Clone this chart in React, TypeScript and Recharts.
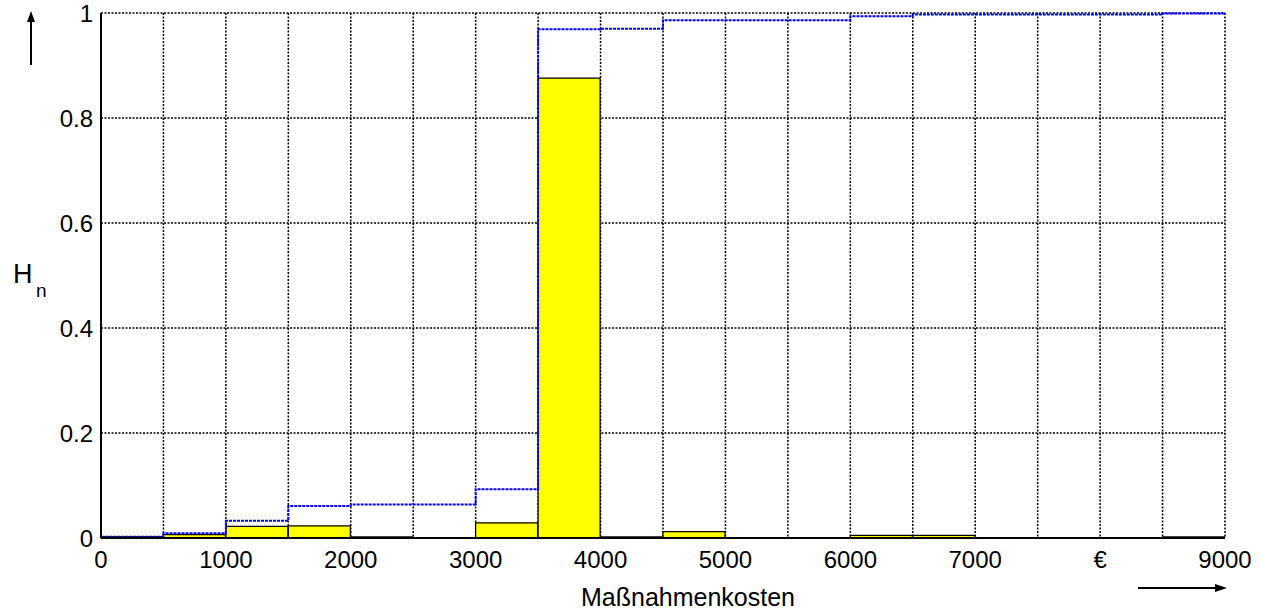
import React from "react";
import {
  ComposedChart,
  Bar,
  Line,
  XAxis,
  YAxis,
  CartesianGrid,
} from "recharts";

// ---------------------------------------------------------------------------
// Data (bins of 500 €, relative frequency + cumulative frequency)
// ---------------------------------------------------------------------------

const binStarts = [
  0, 500, 1000, 1500, 2000, 2500, 3000, 3500, 4000, 4500, 5000, 5500, 6000,
  6500, 7000, 7500, 8000, 8500,
];

const histValues = [
  0.0025, 0.0065, 0.022, 0.023, 0.002, 0, 0.029, 0.876, 0.002, 0.012, 0.001, 0,
  0.005, 0.005, 0, 0, 0, 0.002,
];

const cumValues = [
  0.0025, 0.009, 0.033, 0.061, 0.064, 0.064, 0.093, 0.969, 0.97, 0.986, 0.986,
  0.986, 0.994, 0.997, 0.997, 0.997, 0.997, 0.999,
];

const xEnd = 9000;
const xTicks = [
  0, 500, 1000, 1500, 2000, 2500, 3000, 3500, 4000, 4500, 5000, 5500, 6000,
  6500, 7000, 7500, 8000, 8500, 9000,
];
const yTicks = [0, 0.2, 0.4, 0.6, 0.8, 1];

const barData = binStarts.map((s, i) => ({ bin: s, h: histValues[i] }));
const lineData = [
  ...binStarts.map((s, i) => ({ x: s, c: cumValues[i] })),
  { x: xEnd, c: cumValues[cumValues.length - 1] },
];

const FONT = "'Liberation Sans', Arial, Helvetica, sans-serif";
const TICK = { fill: "#000", fontSize: 24, fontFamily: FONT };

const fmtX = (v: number) => (v === 8000 ? "€" : v % 1000 === 0 ? String(v) : "");
const fmtY = (v: number) => (v === 0 ? "0" : v === 1 ? "1" : v.toFixed(1));

export default function App() {
  return (
    <div
      style={{
        position: "absolute",
        left: 0,
        top: 0,
        width: 1262,
        height: 612,
        background: "#fff",
      }}
    >
      <ComposedChart
        width={1262}
        height={612}
        data={barData}
        barCategoryGap={0}
        barGap={0}
        margin={{ top: 13, right: 37, bottom: 34, left: 0 }}
      >
        <CartesianGrid
          xAxisId="num"
          stroke="#000"
          strokeDasharray="2 1.5"
          strokeWidth={1.5}
        />
        <XAxis xAxisId="cat" dataKey="bin" type="category" hide height={0} />
        <XAxis
          xAxisId="num"
          dataKey="x"
          type="number"
          domain={[0, xEnd]}
          ticks={xTicks}
          interval={0}
          allowDataOverflow
          height={40}
          tick={TICK}
          tickFormatter={fmtX}
          tickLine={false}
          tickSize={0}
          tickMargin={13}
          axisLine={{ stroke: "#000", strokeWidth: 2 }}
        />
        <YAxis
          type="number"
          domain={[0, 1]}
          ticks={yTicks}
          width={101}
          tick={TICK}
          tickFormatter={fmtY}
          tickLine={false}
          tickSize={0}
          tickMargin={8}
          axisLine={{ stroke: "#000", strokeWidth: 2 }}
        />
        <Bar
          xAxisId="cat"
          dataKey="h"
          fill="#ffff00"
          stroke="#000"
          strokeWidth={1.2}
          isAnimationActive={false}
        />
        <Line
          xAxisId="num"
          data={lineData}
          dataKey="c"
          type="stepAfter"
          stroke="#0000ff"
          strokeWidth={2}
          strokeDasharray="3 1"
          dot={false}
          activeDot={false}
          isAnimationActive={false}
        />
      </ComposedChart>

      {/* axis labels and arrows */}
      <svg
        width={1262}
        height={612}
        style={{ position: "absolute", left: 0, top: 0, pointerEvents: "none" }}
      >
        <line x1={31} y1={65} x2={31} y2={20} stroke="#000" strokeWidth={2} />
        <polygon points="31,11 27,22 35,22" fill="#000" />
        <text x={13} y={283} fontFamily={FONT} fontSize={27} fill="#000">
          H
        </text>
        <text x={36} y={297} fontFamily={FONT} fontSize={19} fill="#000">
          n
        </text>
        <text
          x={688}
          y={606}
          textAnchor="middle"
          fontFamily={FONT}
          fontSize={25}
          fill="#000"
        >
          Maßnahmenkosten
        </text>
        <line x1={1138} y1={588} x2={1218} y2={588} stroke="#000" strokeWidth={2} />
        <polygon points="1227,588 1215,584 1215,592" fill="#000" />
      </svg>
    </div>
  );
}
